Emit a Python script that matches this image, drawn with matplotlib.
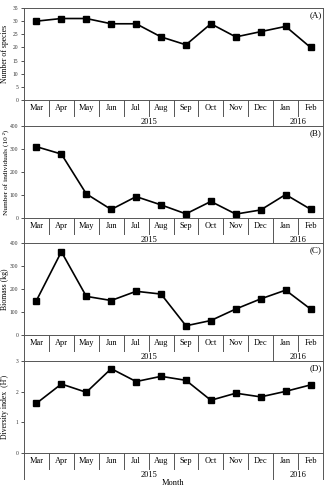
import matplotlib
matplotlib.use("Agg")
import matplotlib.pyplot as plt
from matplotlib.transforms import blended_transform_factory

months = ["Mar", "Apr", "May", "Jun", "Jul", "Aug", "Sep", "Oct", "Nov", "Dec", "Jan", "Feb"]
years = ["2015", "2016"]
species = [30, 31, 31, 29, 29, 24, 21, 29, 24, 26, 28, 20]
individuals = [310, 278, 105, 37, 93, 57, 18, 72, 17, 35, 102, 38]
biomass = [150, 362, 168, 150, 190, 178, 40, 63, 113, 157, 195, 113]
diversity = [1.62, 2.25, 1.98, 2.75, 2.33, 2.50, 2.37, 1.72, 1.95, 1.83, 2.01, 2.22]

panels = [
    (species, "Number of species", (0, 35), list(range(0, 36, 5)), "(A)", 100, 5.6),
    (individuals, "Number of individuals (10 \u00b2)", (0, 400), list(range(0, 401, 100)), "(B)", 218, 5.3),
    (biomass, "Biomass (kg)", (0, 400), list(range(0, 401, 100)), "(C)", 335, 5.6),
    (diversity, "Diversity index  (H')", (0, 3), [0, 1, 2, 3], "(D)", 453, 5.6),
]

plt.rcParams['font.family'] = ['Liberation Serif', 'DejaVu Serif']
W, H = 325, 486
fig = plt.figure(figsize=(W / 100, H / 100), dpi=100)

x = list(range(len(months)))
left_px, right_px = 24, 323
plot_h = 92
month_row = 16
year_row = 26
line_c = "#555555"

for i, (vals, ylabel, ylim, yticks, tag, zero_px, lab_fs) in enumerate(panels):
    ax = fig.add_axes([left_px / W, 1 - zero_px / H, (right_px - left_px) / W, plot_h / H])
    ax.plot(x, vals, color="black", lw=1.2, marker="s", ms=4.2, mfc="black", mec="black")
    ax.set_xlim(-0.5, len(months) - 0.5)
    ax.set_ylim(*ylim)
    ax.set_yticks(yticks)
    ax.tick_params(axis="y", direction="out", length=2.5, width=0.6, labelsize=4.0, pad=1.5,
                   colors="#333333")
    ax.set_xticks([])
    for s in ax.spines.values():
        s.set_linewidth(0.7)
        s.set_color(line_c)
    ax.set_ylabel(ylabel, fontsize=lab_fs)
    ax.yaxis.set_label_coords(-15 / (right_px - left_px), 0.5)
    ax.text(0.995, 0.96, tag, transform=ax.transAxes, ha="right", va="top", fontsize=6.5)

    # table below axis
    fy = month_row / plot_h
    yy = year_row / plot_h
    for xp in (0, 1):
        ax.plot([xp, xp], [0, -yy], transform=ax.transAxes, color=line_c, lw=0.7, clip_on=False)
    tr = blended_transform_factory(ax.transData, ax.transAxes)
    for k in range(len(months) - 1):
        bottom = -yy if k == 9 else -fy
        ax.plot([k + 0.5, k + 0.5], [0, bottom], transform=tr, color=line_c, lw=0.7, clip_on=False)
    for k, m in enumerate(months):
        ax.text(k, -fy / 2, m, transform=tr, ha="center", va="center", fontsize=6)
    ax.text(4.5, -(fy + yy) / 2 - 0.01, years[0], transform=tr, ha="center", va="center", fontsize=6)
    ax.text(10.5, -(fy + yy) / 2 - 0.01, years[1], transform=tr, ha="center", va="center", fontsize=6)
    if i == 3:
        ax.text(0.5, -26 / plot_h, "Month", transform=ax.transAxes, ha="center", va="top", fontsize=6)

fig.savefig("out.png", dpi=100)
